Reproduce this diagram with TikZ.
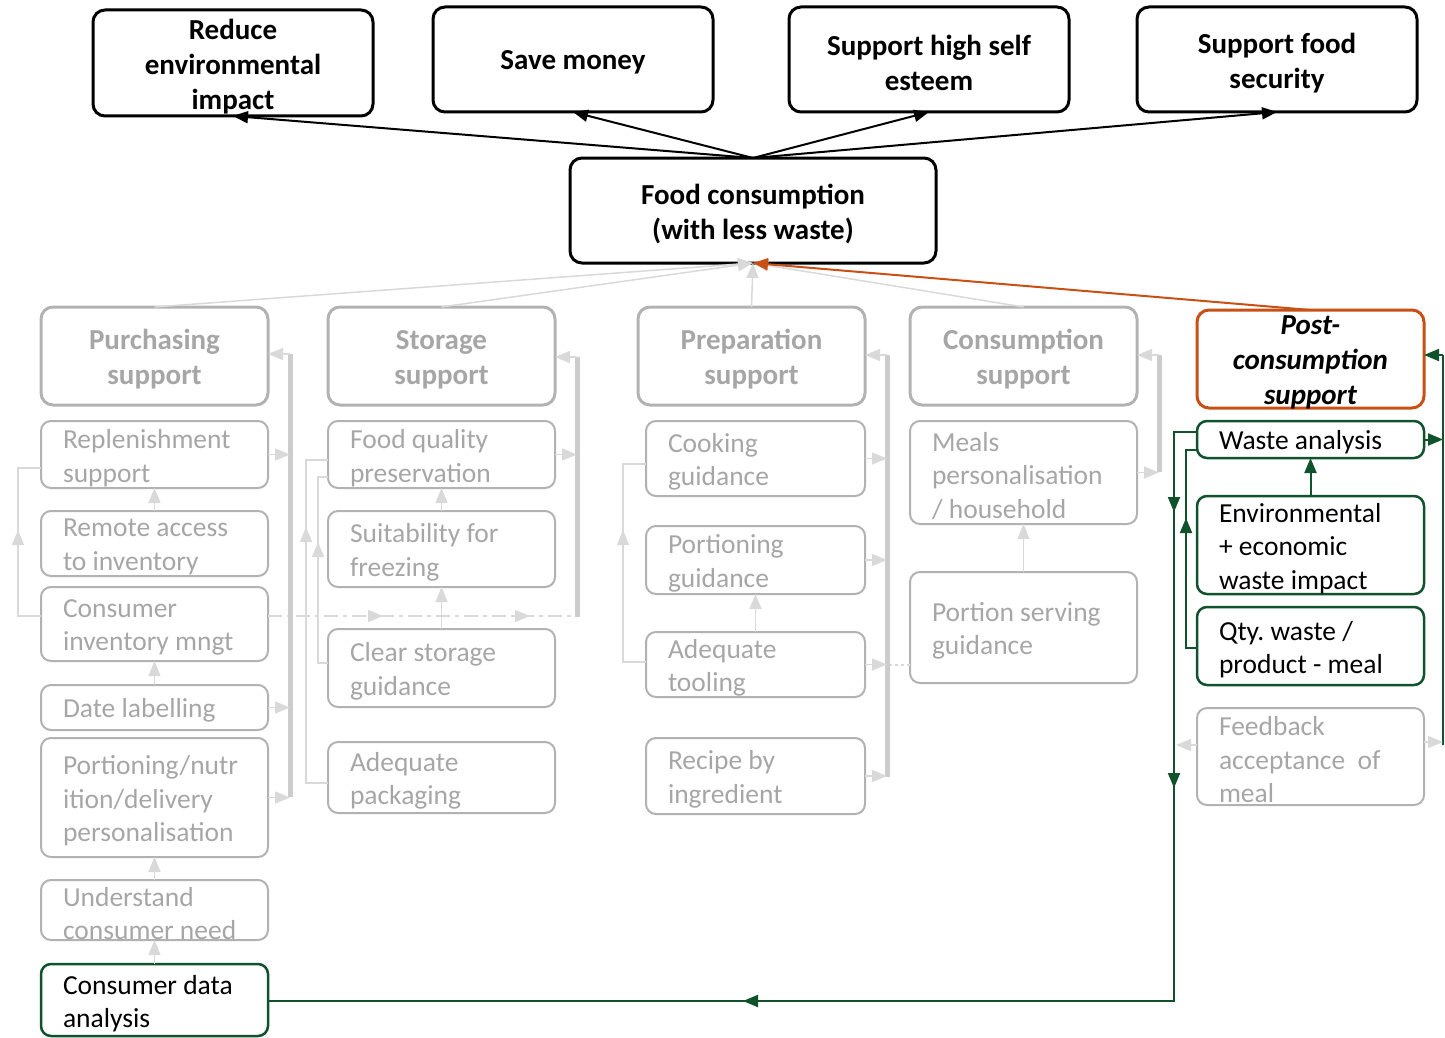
\documentclass[tikz,border=0pt]{standalone}
\usepackage{fontspec}
\setmainfont{Carlito}
\frenchspacing
\usetikzlibrary{arrows.meta,decorations.markings}
\definecolor{tgray}{RGB}{166,166,166}
\definecolor{bgray}{RGB}{178,178,178}
\definecolor{agray}{RGB}{217,217,217}
\definecolor{bargray}{RGB}{204,204,204}
\definecolor{dgreen}{RGB}{16,82,44}
\definecolor{orng}{RGB}{200,80,20}
\newcommand\bigbold{\fontsize{29}{35}\selectfont\bfseries}
\newcommand\smallreg{\fontsize{27.5}{33.5}\selectfont}
\newcommand\mybox[7]{%
  \pgfmathsetmacro\bxw{#5-#3}%
  \pgfmathsetmacro\bxh{#6-#4}%
  \pgfmathsetmacro\bxx{(#3+#5)/2}%
  \pgfmathsetmacro\bxy{(#4+#6)/2}%
  \pgfmathsetmacro\bxt{#5-#3-44}%
  \node[#2, minimum width=\bxw pt, minimum height=\bxh pt, text width=\bxt pt] (#1) at (\bxx,\bxy) {#7\par\kern-7pt};}
\tikzset{
  base/.style={rectangle, inner xsep=22pt, inner ysep=0pt, outer sep=0pt},
  goal/.style={base, draw=black, line width=3pt, rounded corners=12pt, fill=white, align=flush center, font=\bigbold},
  head/.style={base, draw=bgray, line width=3pt, rounded corners=12pt, align=flush center, text=tgray, font=\bigbold},
  post/.style={head, draw=orng, text=black, font=\bigbold\itshape},
  sub/.style={base, draw=bgray, line width=2pt, rounded corners=10pt, align=flush left, text=tgray, font=\smallreg},
  gsub/.style={sub, draw=dgreen, line width=2.5pt, text=black},
  ga/.style={draw=agray, line width=1.5pt, -{Triangle[length=15pt,width=12pt]}},
  gl/.style={draw=agray, line width=1.2pt},
  bararrow/.style={draw=bargray, line width=5pt},
  ba/.style={draw=black, line width=2pt, -{Triangle[length=15pt,width=12pt]}},
  oa/.style={draw=orng, line width=2pt, -{Triangle[length=15pt,width=12pt]}},
  gra/.style={draw=dgreen, line width=2pt, -{Triangle[length=15pt,width=12pt]}},
  grl/.style={draw=dgreen, line width=2pt},
  midg/.style={postaction=decorate, decoration={markings, mark=at position #1 with {\arrow[agray]{Triangle[length=15pt,width=12pt]}}}},
  midgr/.style={postaction=decorate, decoration={markings, mark=at position #1 with {\arrow[dgreen]{Triangle[length=15pt,width=12pt]}}}},
}
\begin{document}
\begin{tikzpicture}[x=1pt,y=-1pt]
\useasboundingbox (0,0) rectangle (1445,1038);

% goals
\mybox{g1}{goal}{93}{10}{373}{116}{Reduce\\environmental\\impact}
\mybox{g2}{goal}{433}{7}{713}{112}{Save money}
\mybox{g3}{goal}{789}{7}{1069}{112}{Support high self\\esteem}
\mybox{g4}{goal}{1137}{7}{1417}{112}{Support food\\security}
\mybox{food}{goal}{570}{158}{936}{263}{Food consumption\\(with less waste)}

% headers
\mybox{hP}{head}{41}{307}{268}{405}{Purchasing\\support}
\mybox{hS}{head}{328}{307}{555}{405}{Storage\\support}
\mybox{hR}{head}{638}{307}{865}{405}{Preparation\\support}
\mybox{hC}{head}{910}{307}{1137}{405}{Consumption\\support}
\mybox{hX}{post}{1197}{310}{1424}{408}{Post-\\consumption\\support}

% purchasing
\mybox{p1}{sub}{41}{421}{268}{488}{Replenishment\\support}
\mybox{p2}{sub}{41}{511}{268}{576}{Remote access\\to inventory}
\mybox{p3}{sub}{41}{587}{268}{661}{Consumer\\inventory mngt}
\mybox{p4}{sub}{41}{685}{268}{730}{Date labelling}
\mybox{p5}{sub}{41}{738}{268}{857}{Portioning/nutr\\ition/delivery\\personalisation}
\mybox{p6}{sub}{41}{880}{268}{940}{Understand\\consumer need}
\mybox{p7}{gsub}{41}{964}{268}{1036}{Consumer data\\analysis}

% storage
\mybox{s1}{sub}{328}{421}{555}{488}{Food quality\\preservation}
\mybox{s2}{sub}{328}{511}{555}{587}{Suitability for\\freezing}
\mybox{s3}{sub}{328}{629}{555}{707}{Clear storage\\guidance}
\mybox{s4}{sub}{328}{742}{555}{813}{Adequate\\packaging}

% preparation
\mybox{r1}{sub}{646}{421}{865}{496}{Cooking\\guidance}
\mybox{r2}{sub}{646}{526}{865}{594}{Portioning\\guidance}
\mybox{r3}{sub}{646}{632}{865}{697}{Adequate\\tooling}
\mybox{r4}{sub}{646}{738}{865}{814}{Recipe by\\ingredient}

% consumption
\mybox{c1}{sub}{910}{421}{1137}{524}{Meals\\personalisation\\/ household}
\mybox{c2}{sub}{910}{572}{1137}{683}{Portion serving\\guidance}

% post-consumption
\mybox{x1}{gsub}{1197}{421}{1424}{458}{Waste analysis}
\mybox{x2}{gsub}{1197}{496}{1424}{594}{Environmental\\+ economic\\waste impact}
\mybox{x3}{gsub}{1197}{607}{1424}{685}{Qty. waste /\\product - meal}
\mybox{x4}{sub}{1197}{708}{1424}{805}{Feedback\\acceptance\ \ of\\meal}

% top arrows
\foreach \g in {g1,g2,g3,g4} \draw[ba] (food.north) -- (\g.south);
\foreach \h in {hP,hS,hR,hC} \draw[ga] (\h.north) -- (food.south);
\draw[oa] (hX.north) -- (food.south);

% bars
\coordinate (pbT) at (290,354); \coordinate (pbB) at (290,797);
\coordinate (sbT) at (577,357); \coordinate (sbB) at (577,617);
\coordinate (rbT) at (887,355); \coordinate (rbB) at (887,777);
\coordinate (cbT) at (1159,355); \coordinate (cbB) at (1159,472);
\coordinate (xbT) at (1443,355); \coordinate (xbB) at (1443,745);

% dashed consumer inventory -> storage bar
\coordinate (dA) at (577,616);
\draw[gl, dash pattern=on 14pt off 5pt on 4pt off 5pt,
  postaction=decorate, decoration={markings,
    mark=at position 115pt with {\arrow[agray]{Triangle[length=15pt,width=12pt]}},
    mark=at position 262pt with {\arrow[agray]{Triangle[length=15pt,width=12pt]}}}]
  (p3.east |- dA) -- (dA);
% dashed portion serving -> prep bar
\coordinate (dB) at (887,665);
\draw[gl, dashed] (c2.west |- dB) -- (dB);

\draw[bararrow] (pbT) -- (pbB);
\draw[bararrow] (sbT) -- (sbB);
\draw[bararrow] (rbT) -- (rbB);
\draw[bararrow] (cbT) -- (cbB);
\draw[grl] (xbT) -- (xbB);

% bar -> headers
\draw[ga] (pbT) -- (hP.east |- pbT);
\draw[ga] (sbT) -- (hS.east |- sbT);
\draw[ga] (rbT) -- (hR.east |- rbT);
\draw[ga] (cbT) -- (hC.east |- cbT);
\draw[gra] (xbT) -- (hX.east |- xbT);

% subs -> bars
\foreach \n in {p1,p4,p5} \draw[ga] (\n.east) -- (\n.east -| pbT);
\draw[ga] (s1.east) -- (s1.east -| sbT);
\foreach \n in {r1,r2,r3,r4} \draw[ga] (\n.east) -- (\n.east -| rbT);
\draw[ga] (c1.east) -- (c1.east -| cbT);
\draw[gra] (x1.east) -- (x1.east -| xbT);
\coordinate (xf) at (1443,742);
\draw[ga] (x4.east |- xf) -- (xf);
\coordinate (xl) at (1176,745);
\draw[ga] (x4.west |- xl) -- (xl);

% vertical arrows between boxes
\draw[ga] (p2.north) -- (p1.south);
\draw[ga] (p4.north) -- (p3.south);
\draw[ga] (p6.north) -- (p5.south);
\draw[ga] (p7.north) -- (p6.south);
\draw[ga] (s2.north) -- (s1.south);
\draw[ga] (s3.north) -- (s2.south);
\draw[ga] (r3.north) -- (r2.south);
\draw[ga] (c2.north) -- (c1.south);
\draw[gra] (x2.north) -- (x1.south);

% loops
\coordinate (lpA) at (18,616); \coordinate (lpB) at (18,468);
\draw[gl, midg=109pt] (p3.west |- lpA) -- (lpA) -- (lpB) -- (p1.west |- lpB);
\coordinate (lsA) at (306,783); \coordinate (lsB) at (306,460);
\draw[gl, midg=278pt] (s4.west |- lsA) -- (lsA) -- (lsB) -- (s1.west |- lsB);
\coordinate (lsC) at (318,663); \coordinate (lsD) at (318,477);
\draw[gl, midg=131pt] (s3.west |- lsC) -- (lsC) -- (lsD) -- (s1.west |- lsD);
\coordinate (lrA) at (623,662); \coordinate (lrB) at (623,464);
\draw[gl, midg=155pt] (r3.west |- lrA) -- (lrA) -- (lrB) -- (r1.west |- lrB);

% green loops
\coordinate (gxA) at (1186,648); \coordinate (gxB) at (1186,450);
\draw[grl, midgr=141pt] (x3.west |- gxA) -- (gxA) -- (gxB) -- (x1.west |- gxB);
\coordinate (gyA) at (1174,432); \coordinate (gyB) at (1174,1001);
\draw[grl, postaction=decorate, decoration={markings,
    mark=at position 103pt with {\arrow[dgreen]{Triangle[length=15pt,width=12pt]}},
    mark=at position 379pt with {\arrow[dgreen]{Triangle[length=15pt,width=12pt]}},
    mark=at position 1023pt with {\arrow[dgreen]{Triangle[length=15pt,width=12pt]}}}]
  (x1.west |- gyA) -- (gyA) -- (gyB) -- (p7.east |- gyB);
\end{tikzpicture}
\end{document}
